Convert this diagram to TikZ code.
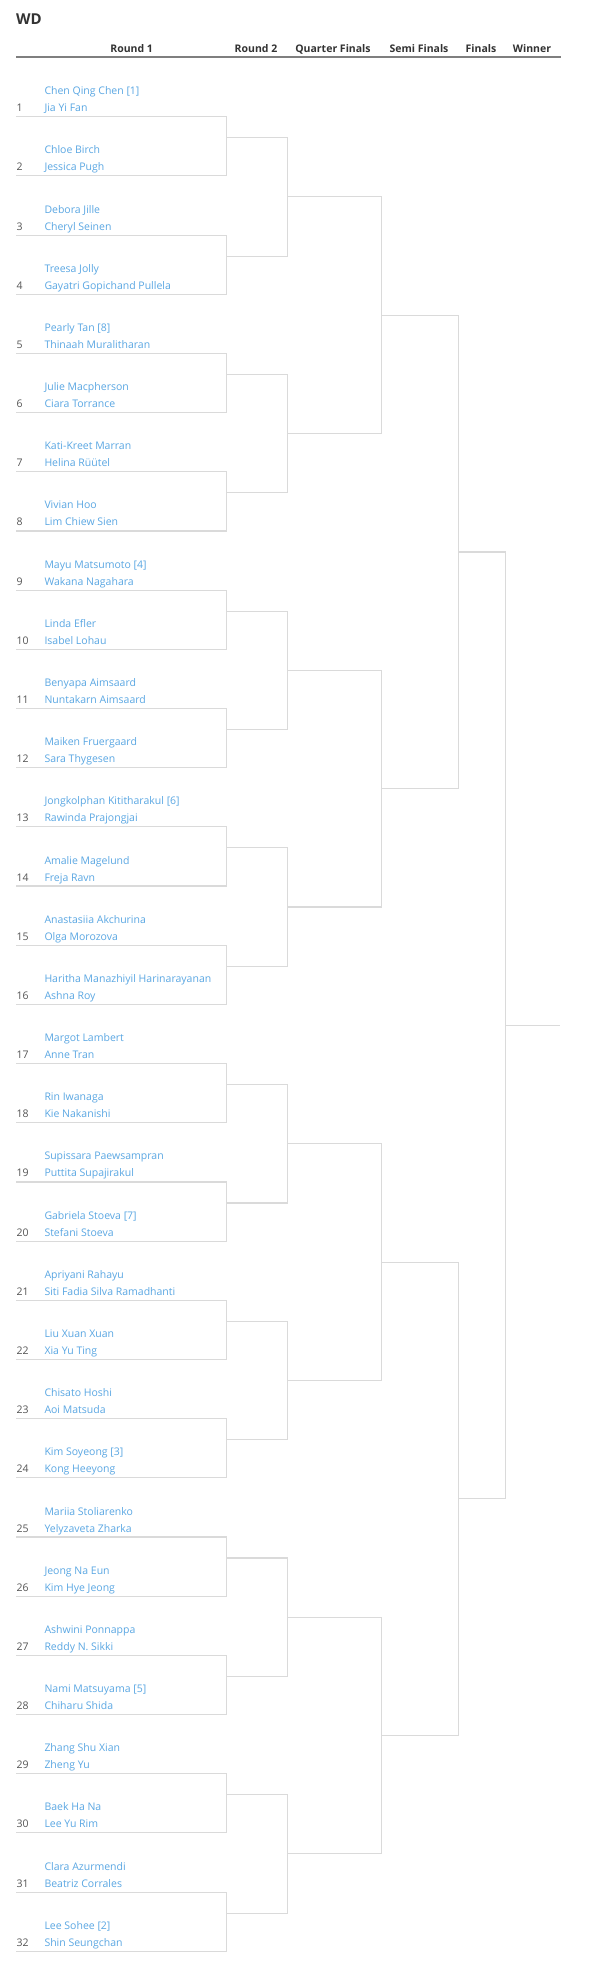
\documentclass[tikz,border=0pt]{standalone}
\usepackage{fontspec}
\setmainfont{Open Sans}
\definecolor{namec}{HTML}{5AA7E3}
\definecolor{numc}{HTML}{555555}
\definecolor{hdrc}{HTML}{333333}
\definecolor{linec}{HTML}{DADADA}
\definecolor{hlinec}{HTML}{7F7F7F}
\tikzset{
  nm/.style={anchor=base west, inner sep=0pt, text=namec, font=\fontsize{10.5}{12}\selectfont},
  num/.style={anchor=base west, inner sep=0pt, text=numc, font=\fontsize{10.5}{12}\selectfont},
  hdr/.style={anchor=base, inner sep=0pt, text=hdrc, font=\fontsize{10.5}{12}\selectfont\bfseries},
  ttl/.style={anchor=base west, inner sep=0pt, text=hdrc, font=\fontsize{15}{18}\selectfont\bfseries},
  bl/.style={draw=linec, line width=1.1pt},
  hline/.style={draw=hlinec, line width=1.8pt}
}
\begin{document}
\begin{tikzpicture}[x=1pt,y=-1pt]
\useasboundingbox (0,0) rectangle (600,1988);
\fill[white] (0,0) rectangle (600,1988);
% title and header
\node[ttl] (wd) at (16,25) {WD};
\node[hdr] (h1) at (131.7,52.5) {Round 1};
\node[hdr] (h2) at (256,52.5) {Round 2};
\node[hdr] (h3) at (333,52.5) {Quarter Finals};
\node[hdr] (h4) at (419,52.5) {Semi Finals};
\node[hdr] (h5) at (481,52.5) {Finals};
\node[hdr] (h6) at (532,52.5) {Winner};
\coordinate (hl) at (16,57);
\coordinate (hr) at (561,57);
\draw[hline] (hl) -- (hr);
% round 1 entries
\foreach \i/\a/\b in {
 1/{Chen Qing Chen [1]}/{Jia Yi Fan},
 2/{Chloe Birch}/{Jessica Pugh},
 3/{Debora Jille}/{Cheryl Seinen},
 4/{Treesa Jolly}/{Gayatri Gopichand Pullela},
 5/{Pearly Tan [8]}/{Thinaah Muralitharan},
 6/{Julie Macpherson}/{Ciara Torrance},
 7/{Kati-Kreet Marran}/{Helina Rüütel},
 8/{Vivian Hoo}/{Lim Chiew Sien},
 9/{Mayu Matsumoto [4]}/{Wakana Nagahara},
 10/{Linda Efler}/{Isabel Lohau},
 11/{Benyapa Aimsaard}/{Nuntakarn Aimsaard},
 12/{Maiken Fruergaard}/{Sara Thygesen},
 13/{Jongkolphan Kititharakul [6]}/{Rawinda Prajongjai},
 14/{Amalie Magelund}/{Freja Ravn},
 15/{Anastasiia Akchurina}/{Olga Morozova},
 16/{Haritha Manazhiyil Harinarayanan}/{Ashna Roy},
 17/{Margot Lambert}/{Anne Tran},
 18/{Rin Iwanaga}/{Kie Nakanishi},
 19/{Supissara Paewsampran}/{Puttita Supajirakul},
 20/{Gabriela Stoeva [7]}/{Stefani Stoeva},
 21/{Apriyani Rahayu}/{Siti Fadia Silva Ramadhanti},
 22/{Liu Xuan Xuan}/{Xia Yu Ting},
 23/{Chisato Hoshi}/{Aoi Matsuda},
 24/{Kim Soyeong [3]}/{Kong Heeyong},
 25/{Mariia Stoliarenko}/{Yelyzaveta Zharka},
 26/{Jeong Na Eun}/{Kim Hye Jeong},
 27/{Ashwini Ponnappa}/{Reddy N. Sikki},
 28/{Nami Matsuyama [5]}/{Chiharu Shida},
 29/{Zhang Shu Xian}/{Zheng Yu},
 30/{Baek Ha Na}/{Lee Yu Rim},
 31/{Clara Azurmendi}/{Beatriz Corrales},
 32/{Lee Sohee [2]}/{Shin Seungchan}} {
  \pgfmathsetmacro\ly{116.7+(\i-1)*59.18}
  \node[nm] (n\i-a) at (44.3,\ly-22) {\a};
  \node[nm] (n\i-b) at (44.3,\ly-5) {\b};
  \node[num] (num\i) at (16.5,\ly-5) {\i};
  \coordinate (L\i) at (16,\ly);
  \coordinate (R\i) at (226.7,\ly);
}
% round 1 brackets
\foreach \k in {1,...,16} {
  \pgfmathtruncatemacro\u{2*\k-1}
  \pgfmathtruncatemacro\v{2*\k}
  \draw[bl] (L\u) -- (R\u) -- (R\v) -- (L\v);
}
% round 2 lines
\foreach \k in {1,...,16} {
  \pgfmathsetmacro\yy{137.7+(\k-1)*118.36}
  \coordinate (A\k) at (226.7,\yy);
  \coordinate (B\k) at (287.3,\yy);
}
\foreach \k in {1,...,8} {
  \pgfmathtruncatemacro\u{2*\k-1}
  \pgfmathtruncatemacro\v{2*\k}
  \draw[bl] (A\u) -- (B\u) -- (B\v) -- (A\v);
}
% quarter finals
\foreach \k in {1,...,8} {
  \pgfmathsetmacro\yy{196.88+(\k-1)*236.72}
  \coordinate (C\k) at (287.3,\yy);
  \coordinate (D\k) at (381.3,\yy);
}
\foreach \k in {1,...,4} {
  \pgfmathtruncatemacro\u{2*\k-1}
  \pgfmathtruncatemacro\v{2*\k}
  \draw[bl] (C\u) -- (D\u) -- (D\v) -- (C\v);
}
% semi finals
\foreach \k in {1,...,4} {
  \pgfmathsetmacro\yy{315.24+(\k-1)*473.44}
  \coordinate (E\k) at (381.3,\yy);
  \coordinate (F\k) at (458.7,\yy);
}
\foreach \k in {1,...,2} {
  \pgfmathtruncatemacro\u{2*\k-1}
  \pgfmathtruncatemacro\v{2*\k}
  \draw[bl] (E\u) -- (F\u) -- (F\v) -- (E\v);
}
% finals
\coordinate (G1) at (458.7,551.96);
\coordinate (H1) at (505.7,551.96);
\coordinate (G2) at (458.7,1498.84);
\coordinate (H2) at (505.7,1498.84);
\draw[bl] (G1) -- (H1) -- (H2) -- (G2);
% winner
\coordinate (W1) at (505.7,1025.4);
\coordinate (W2) at (560,1025.4);
\draw[bl] (W1) -- (W2);
\end{tikzpicture}
\end{document}
